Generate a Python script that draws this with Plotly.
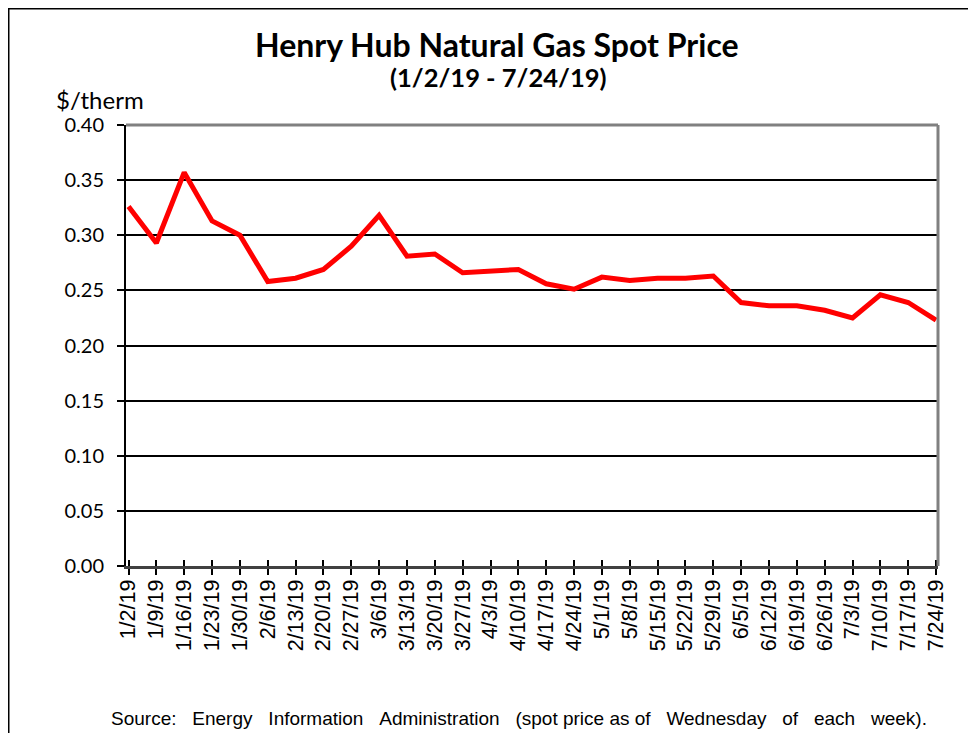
import plotly.graph_objects as go

dates = ["1/2/19", "1/9/19", "1/16/19", "1/23/19", "1/30/19", "2/6/19", "2/13/19", "2/20/19",
         "2/27/19", "3/6/19", "3/13/19", "3/20/19", "3/27/19", "4/3/19", "4/10/19", "4/17/19",
         "4/24/19", "5/1/19", "5/8/19", "5/15/19", "5/22/19", "5/29/19", "6/5/19", "6/12/19",
         "6/19/19", "6/26/19", "7/3/19", "7/10/19", "7/17/19", "7/24/19"]
prices = [0.326, 0.293, 0.357, 0.313, 0.300, 0.258, 0.261, 0.269,
          0.290, 0.318, 0.281, 0.283, 0.266, 0.267, 0.269, 0.256,
          0.251, 0.262, 0.259, 0.261, 0.261, 0.263, 0.239, 0.236,
          0.236, 0.232, 0.225, 0.246, 0.239, 0.223]
y_ticks = [0.00, 0.05, 0.10, 0.15, 0.20, 0.25, 0.30, 0.35, 0.40]

OFF = 8  # default page body margin
W, H = 976 - OFF, 733 - OFF
# plot area in page pixels
L, R, T, B = 126, 938, 125, 566

def px(x):
    return (x - L) / (R - L)

def py(y):
    return (B - y) / (B - T)

fig = go.Figure()
fig.add_trace(go.Scatter(x=dates, y=prices, mode="lines",
                         line=dict(color="#ff0000", width=5), showlegend=False,
                         hoverinfo="x+y"))
fig.add_trace(go.Scatter(x=dates, y=prices, xaxis="x2", mode="lines",
                         line=dict(width=0), opacity=0, showlegend=False, hoverinfo="skip"))

sp = "\u00a0\u00a0\u00a0"
source = ("Source:" + sp + "Energy" + sp + "Information" + sp + "Administration" + sp +
          "(spot price as of" + sp + "Wednesday" + sp + "of" + sp + "each" + sp + "week).")

fig.update_layout(
    width=W, height=H,
    margin=dict(l=L - OFF, r=(W + OFF) - R, t=T - OFF, b=(H + OFF) - B, pad=0),
    paper_bgcolor="white", plot_bgcolor="white",
    xaxis=dict(type="category", range=[-0.09, 29.07], tickangle=-90,
               tickmode="array", tickvals=dates, ticktext=dates,
               tickfont=dict(family="Liberation Sans, Arial", size=21.5, color="black"),
               ticks="outside", ticklen=6, tickcolor="black", tickwidth=1.5,
               ticklabelstandoff=-4,
               showline=True, linecolor="#404040", linewidth=3,
               showgrid=False, zeroline=False, fixedrange=True),
    xaxis2=dict(type="category", overlaying="x", matches="x", side="bottom",
                tickmode="array", tickvals=dates,
                ticks="inside", ticklen=6, tickcolor="black", tickwidth=1.5,
                showticklabels=False, showline=False, showgrid=False, zeroline=False),
    yaxis=dict(range=[0, 0.40], tickvals=y_ticks, tickformat=".2f",
               tickfont=dict(family="Lato", size=20, color="black"),
               ticks="outside", ticklen=7, tickcolor="black", tickwidth=1.5,
               ticklabelstandoff=9,
               showline=True, linecolor="black", linewidth=2,
               showgrid=True, gridcolor="black", gridwidth=1.5, zeroline=False,
               fixedrange=True),
    shapes=[
        dict(type="line", xref="paper", yref="paper", x0=0, x1=1, y0=1, y1=1,
             line=dict(color="#808080", width=3)),
        dict(type="line", xref="paper", yref="paper", x0=1, x1=1, y0=0, y1=1,
             line=dict(color="#808080", width=3)),
        dict(type="rect", xref="paper", yref="paper",
             x0=px(8.5), x1=px(990), y0=py(8.5), y1=py(760),
             line=dict(color="black", width=2), layer="below"),
    ],
    annotations=[
        dict(text="<b>Henry Hub Natural Gas Spot Price</b>", xref="paper", yref="paper",
             x=px(497), y=py(45), xanchor="center", yanchor="middle", showarrow=False,
             font=dict(family="Lato", size=32, color="black")),
        dict(text="<b>(1/2/19 - 7/24/19)</b>", xref="paper", yref="paper",
             x=px(498), y=py(77), xanchor="center", yanchor="middle", showarrow=False,
             font=dict(family="Lato", size=25.5, color="black")),
        dict(text="$/therm", xref="paper", yref="paper",
             x=px(54), y=py(99), xanchor="left", yanchor="middle", showarrow=False,
             font=dict(family="Lato", size=24, color="black")),
        dict(text=source, xref="paper", yref="paper",
             x=px(519), y=py(718), xanchor="center", yanchor="middle", showarrow=False,
             font=dict(family="Liberation Sans, Arial", size=19, color="black")),
    ],
)

fig.write_html("out.html")
